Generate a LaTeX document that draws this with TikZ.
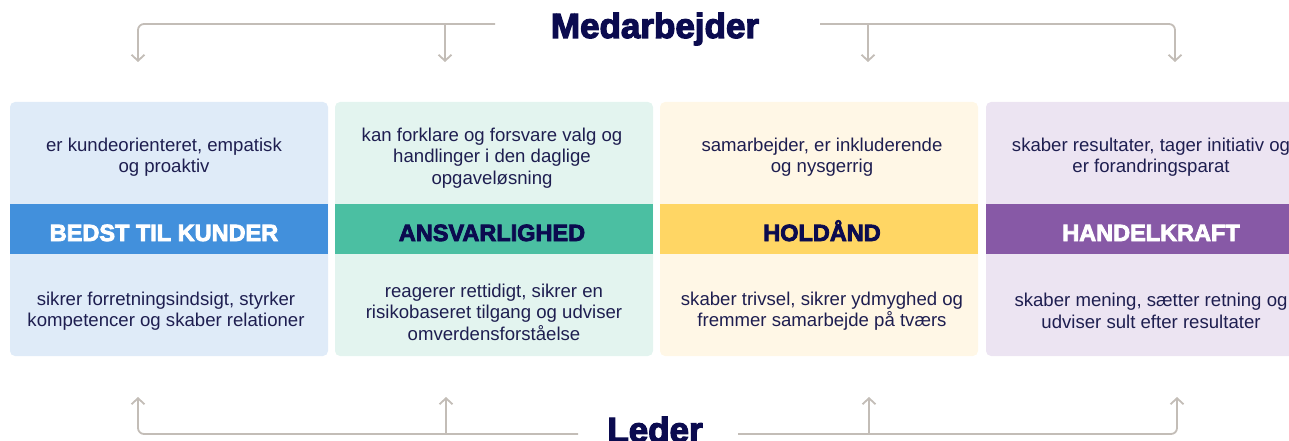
\documentclass[tikz,border=0pt]{standalone}
\usepackage{fontspec}
\setmainfont{Liberation Sans}
\newfontfamily\heavy[FakeBold=3.5]{Liberation Sans Bold}
\usetikzlibrary{arrows.meta}
\definecolor{bgA}{HTML}{DFEBF8}
\definecolor{bgB}{HTML}{E3F4EF}
\definecolor{bgC}{HTML}{FFF7E6}
\definecolor{bgD}{HTML}{ECE4F2}
\definecolor{bandA}{HTML}{4290DC}
\definecolor{bandB}{HTML}{4BBFA2}
\definecolor{bandC}{HTML}{FFD664}
\definecolor{bandD}{HTML}{8759A6}
\definecolor{txt}{HTML}{1E1E50}
\definecolor{navy}{HTML}{0B0B4F}
\definecolor{conncol}{HTML}{C3BDB7}
\tikzset{
  panel/.style={draw=none, rounded corners=5pt, minimum width=318pt, minimum height=254pt, inner sep=0pt},
  band/.style={draw=none, minimum width=318pt, minimum height=50pt, inner sep=0pt},
  bandtext/.style={inner sep=0pt, font=\heavy\fontsize{23.5}{26}\selectfont},
  desc/.style={align=center, text=txt, font=\fontsize{18.6}{21.5}\selectfont, inner sep=0pt},
  title/.style={text=navy, font=\heavy\fontsize{35}{38}\selectfont, inner sep=0pt, anchor=base},
  conn/.style={draw=conncol, line width=1.8pt},
  arr/.style={conn, -{Straight Barb[length=6pt,width=13pt,line width=1.8pt]}},
}
\begin{document}
\begin{tikzpicture}[x=1pt,y=-1pt]
\useasboundingbox (0,0) rectangle (1289,441);
% panels
\node[panel, fill=bgA] (pA) at (169,229) {};
\node[panel, fill=bgB] (pB) at (494,229) {};
\node[panel, fill=bgC] (pC) at (819,229) {};
\node[panel, fill=bgD] (pD) at (1145,229) {};
% bands
\node[band, fill=bandA] (bA) at (169,229) {};
\node[band, fill=bandB] (bB) at (494,229) {};
\node[band, fill=bandC] (bC) at (819,229) {};
\node[band, fill=bandD] (bD) at (1145,229) {};
\node[bandtext, text=white, anchor=base] (lA) at (164,241) {BEDST TIL KUNDER};
\node[bandtext, text=navy, anchor=base] (lB) at (492,241) {ANSVARLIGHED};
\node[bandtext, text=navy, anchor=base] (lC) at (822,241) {HOLDÅND};
\node[bandtext, text=white, anchor=base] (lD) at (1151,241) {HANDELKRAFT};
% top texts
\node[desc] (tA) at (164,157) {er kundeorienteret, empatisk\\og proaktiv};
\node[desc] (tB) at (492,158) {kan forklare og forsvare valg og\\handlinger i den daglige\\opgaveløsning};
\node[desc] (tC) at (822,157) {samarbejder, er inkluderende\\og nysgerrig};
\node[desc] (tD) at (1151,157) {skaber resultater, tager initiativ og\\er forandringsparat};
% bottom texts
\node[desc] (uA) at (166,311) {sikrer forretningsindsigt, styrker\\kompetencer og skaber relationer};
\node[desc] (uB) at (494,312) {reagerer rettidigt, sikrer en\\risikobaseret tilgang og udviser\\omverdensforståelse};
\node[desc] (uC) at (822,311) {skaber trivsel, sikrer ydmyghed og\\fremmer samarbejde på tværs};
\node[desc] (uD) at (1151,311) {skaber mening, sætter retning og\\udviser sult efter resultater};
% titles
\node[title] (med) at (655,38) {Medarbejder};
\node[title] (led) at (655,442) {Leder};
% top connectors
\coordinate (tL) at (495,24);
\coordinate (tR) at (820,24);
\coordinate (a1) at (138,62);
\coordinate (a2) at (445,62);
\coordinate (a3) at (868,62);
\coordinate (a4) at (1175,62);
\draw[arr, rounded corners=6pt] (tL) -- (a1 |- tL) -- (a1);
\draw[arr] (a2 |- tL) -- (a2);
\draw[arr, rounded corners=6pt] (tR) -- (a4 |- tR) -- (a4);
\draw[arr] (a3 |- tR) -- (a3);
% bottom connectors
\coordinate (bL) at (578,434);
\coordinate (bR) at (738,434);
\coordinate (c1) at (138,397);
\coordinate (c2) at (446,397);
\coordinate (c3) at (869,397);
\coordinate (c4) at (1177,397);
\draw[arr, rounded corners=6pt] (bL) -- (c1 |- bL) -- (c1);
\draw[arr] (c2 |- bL) -- (c2);
\draw[arr, rounded corners=6pt] (bR) -- (c4 |- bR) -- (c4);
\draw[arr] (c3 |- bR) -- (c3);
\end{tikzpicture}
\end{document}
